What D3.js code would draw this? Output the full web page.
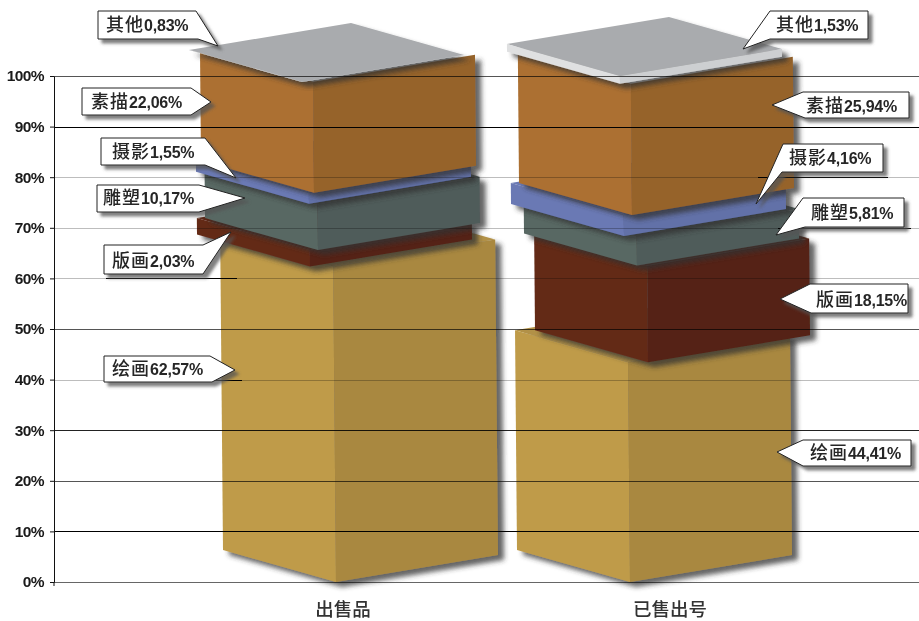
<!DOCTYPE html>
<html>
<head>
<meta charset="utf-8">
<title>出售品 / 已售出号</title>
<script src="https://cdn.jsdelivr.net/npm/d3@7"></script>
<style>
	html, body { margin: 0; padding: 0; background: #fff; }
	svg { display: block; }
	.cjk { font-family: "Noto Sans CJK SC", sans-serif; font-weight: 500; }
	.num { font-family: "Liberation Sans", Arial, sans-serif; font-weight: 700; }
</style>
</head>
<body>
<div id="chart"></div>
<script>

//values
const categories = ["出售品", "已售出号"];
const mediums = ["绘画", "版画", "雕塑", "摄影", "素描", "其他"];
const saleValues = [62.57, 2.03, 10.17, 1.55, 22.06, 0.83];
const soldValues = [44.41, 18.15, 5.81, 4.16, 25.94, 1.53];
const seriesValues = [saleValues, soldValues];

//sizing
const width = 919;
const height = 621;

//the boxes are not stacked straight: each one sits a bit off centre
const boxShift = [
	[0, -26, -18, -27, -22, -34],
	[0, 18, 7, -6, 2, -10]
];
//small vertical slips of the joints between boxes (bottom to top)
const jointSlip = [
	[0, 1, -5, 0, -3, -2.5, 2],
	[0, 5, 0, 0, 0, 0, 0]
];

//faces: left, right, top
const faceColors = [
	["#bf9b49", "#a98840", "#b29147"],
	["#642a18", "#542413", "#5c2716"],
	["#596863", "#505b5a", "#4e5a58"],
	["#6a79b4", "#6271a8", "#6a79b4"],
	["#ac7031", "#96632b", null], //top is hidden under the slab
	["#dfe0e1", "#cdcfd1", "#a9abae"]
];

//label shapes: outline then text start
const labelShapes = [
	[
		{pts: [[104,356],[210,356],[235,370],[212,382],[104,382]], tx: 112, by: 375},
		{pts: [[104,245],[203,245],[231,232],[203,274],[104,274]], tx: 112, by: 267},
		{pts: [[97,185],[199,185],[245,198],[199,212],[97,212]], tx: 103, by: 204},
		{pts: [[101,138],[205,138],[236,178],[205,165],[101,165]], tx: 112, by: 158},
		{pts: [[82,88],[191,88],[211,102],[191,115],[82,115]], tx: 91, by: 108},
		{pts: [[98,11],[196,11],[218,46],[198,39],[98,39]], tx: 106, by: 31}
	],
	[
		{pts: [[803,440],[911,440],[911,466],[803,466],[777,452]], tx: 810, by: 459},
		{pts: [[810,284],[908,284],[908,313],[811,313],[780,299]], tx: 816, by: 306},
		{pts: [[803,198],[904,198],[904,227],[805,227],[776,235]], tx: 811, by: 219},
		{pts: [[783,144],[883,144],[883,172],[782,172],[756,204]], tx: 789, by: 164},
		{pts: [[803,92],[909,92],[909,118],[805,118],[772,105]], tx: 806, by: 112},
		{pts: [[770,11],[868,11],[868,39],[770,39],[743,49]], tx: 776, by: 31}
	]
];

//stray leader lines left in the original, [x1, x2, value]
const strayLines = [
	[106, 237, 60],
	[104, 242, 40],
	[758, 888, 80],
	[778, 911, 70]
];

const gridStyle = {
	100: "#555", 90: "#000", 80: "#bdbdbd", 70: "#bdbdbd", 60: "#bdbdbd",
	50: "#555", 40: "#bdbdbd", 30: "#222", 20: "#555", 10: "#000", 0: "#666"
};

let svg = d3.select("#chart")
	.append("svg")
	.attr("width", width)
	.attr("height", height)
	.attr("viewBox", "0 0 " + width + " " + height);

//drop shadows
let defs = svg.append("defs");
defs.append("filter")
	.attr("id", "boxShadow")
	.attr("x", "-10%").attr("y", "-10%")
	.attr("width", "125%").attr("height", "125%")
	.append("feDropShadow")
	.attr("dx", 6).attr("dy", 5)
	.attr("stdDeviation", 2.6)
	.attr("flood-color", "#333")
	.attr("flood-opacity", 0.75);
defs.append("filter")
	.attr("id", "labelShadow")
	.attr("x", "-10%").attr("y", "-20%")
	.attr("width", "125%").attr("height", "150%")
	.append("feDropShadow")
	.attr("dx", 4).attr("dy", 4)
	.attr("stdDeviation", 1.4)
	.attr("flood-color", "#555")
	.attr("flood-opacity", 0.75);

//scales
const y = d3.scaleLinear().domain([0, 100]).range([582, 76]);
const xFront = d3.scalePoint().domain(categories).range([336, 630]);
const xName = d3.scalePoint().domain(categories).range([343, 670]);

//box depth, from the front edge to the side corners
const dxL = -113, dyL = -32, dxR = 162, dyR = -27;
const lean = 0.009;

const pct = d3.formatLocale({decimal: ",", thousands: "", grouping: [3]}).format(".2f");
const poly = (pts) => pts.map((p) => p.join(",")).join(" ");

//boxes, bottom one first
let boxes = svg.append("g").attr("class", "boxes");

categories.forEach((cat, c) => {
	let cum = 0;
	seriesValues[c].forEach((v, i) => {
		let yB = y(cum) + jointSlip[c][i];
		cum += v;
		let yT = y(cum) + jointSlip[c][i + 1];
		let xB = xFront(cat) + boxShift[c][i];
		let xT = xB - lean * (yB - yT);

		let box = boxes.append("g").attr("filter", "url(#boxShadow)");

		if (faceColors[i][2]) {
			box.append("polygon")
				.attr("points", poly([[xT, yT], [xT + dxL, yT + dyL], [xT + dxL + dxR, yT + dyL + dyR], [xT + dxR, yT + dyR]]))
				.attr("fill", faceColors[i][2]);
		}
		box.append("polygon")
			.attr("points", poly([[xB, yB], [xB + dxL, yB + dyL], [xT + dxL, yT + dyL], [xT, yT]]))
			.attr("fill", faceColors[i][0]);
		box.append("polygon")
			.attr("points", poly([[xB, yB], [xB + dxR, yB + dyR], [xT + dxR, yT + dyR], [xT, yT]]))
			.attr("fill", faceColors[i][1]);
	});
});

//grid goes over the boxes, darkening them
let grid = svg.append("g").style("mix-blend-mode", "multiply");

grid.selectAll("line")
	.data(y.ticks(10))
	.enter().append("line")
	.attr("x1", 54)
	.attr("x2", width)
	.attr("y1", (d) => Math.round(y(d)) + 0.5)
	.attr("y2", (d) => Math.round(y(d)) + 0.5)
	.attr("stroke", (d) => gridStyle[d])
	.attr("stroke-width", 1);

svg.append("g")
	.selectAll("line")
	.data(strayLines)
	.enter().append("line")
	.attr("x1", (d) => d[0])
	.attr("x2", (d) => d[1])
	.attr("y1", (d) => Math.round(y(d[2])) + 0.5)
	.attr("y2", (d) => Math.round(y(d[2])) + 0.5)
	.attr("stroke", "#000")
	.attr("stroke-width", 1);

//axis
let axis = svg.append("g")
	.attr("transform", "translate(54,0)")
	.call(d3.axisLeft(y).ticks(10).tickSize(4).tickSizeOuter(0).tickPadding(6).tickFormat((d) => d + "%"));

axis.select(".domain").attr("stroke", "#111");
axis.selectAll(".tick line").attr("stroke", "#111");
axis.selectAll("text")
	.attr("class", "num")
	.attr("fill", "#1a1a1a")
	.style("font-size", "15.5px")
	.style("letter-spacing", "-0.6px");

axis.append("line")
	.attr("y1", y(0))
	.attr("y2", y(0) + 4)
	.attr("stroke", "#111");

//category names
svg.append("g")
	.selectAll("text")
	.data(categories)
	.enter().append("text")
	.attr("class", "cjk")
	.attr("x", (d) => xName(d))
	.attr("y", 615.5)
	.attr("text-anchor", "middle")
	.attr("fill", "#333")
	.style("font-size", "18.5px")
	.text((d) => d);

//callouts
let labels = svg.append("g");

categories.forEach((cat, c) => {
	mediums.forEach((m, i) => {
		let s = labelShapes[c][i];

		labels.append("polygon")
			.attr("points", poly(s.pts))
			.attr("fill", "#fff")
			.attr("stroke", "#222")
			.attr("stroke-width", 1)
			.attr("filter", "url(#labelShadow)");

		let t = labels.append("text")
			.attr("x", s.tx)
			.attr("y", s.by)
			.attr("fill", "#262626");
		t.append("tspan")
			.attr("class", "cjk")
			.style("font-size", "18px")
			.style("letter-spacing", "1px")
			.text(m);
		t.append("tspan")
			.attr("class", "num")
			.style("font-size", "16px")
			.style("letter-spacing", "-0.2px")
			.text(pct(seriesValues[c][i]) + "%");
	});
});

</script>
</body>
</html>
